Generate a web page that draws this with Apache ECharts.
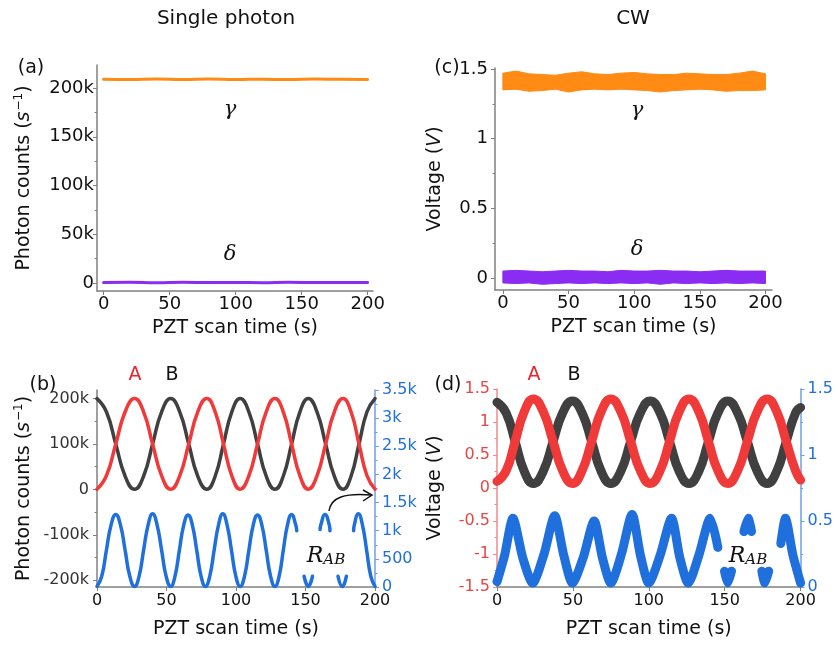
<!DOCTYPE html>
<html>
<head>
<meta charset="utf-8">
<script src="https://cdn.jsdelivr.net/npm/echarts@6/dist/echarts.min.js"></script>
<style>
html,body{margin:0;padding:0;background:#fff;}
#main{width:836px;height:645px;}
</style>
</head>
<body>
<div id="main"></div>
<script>
// ---------- data ----------
// (a) single photon, gamma / delta (counts per s)
var aTime  = [0, 20, 40, 60, 80, 100, 120, 140, 160, 180, 200];
var aGamma = [209000, 208600, 209200, 208800, 209300, 208700, 209100, 208600, 209200, 208900, 208700];
var aDelta = [400, 700, 300, 800, 400, 600, 300, 700, 400, 600, 500];

// (c) CW, band edges (V)
var cTime    = [0, 10, 20, 30, 40, 50, 60, 70, 80, 90, 100, 110, 120, 130, 140, 150, 160, 170, 180, 190, 200];
var cGammaHi = [1.47, 1.485, 1.465, 1.46, 1.455, 1.47, 1.48, 1.465, 1.46, 1.47, 1.475, 1.465, 1.46, 1.46, 1.47, 1.465, 1.46, 1.46, 1.47, 1.485, 1.465];
var cGammaLo = [1.35, 1.355, 1.34, 1.345, 1.355, 1.335, 1.35, 1.355, 1.35, 1.355, 1.35, 1.345, 1.335, 1.345, 1.35, 1.355, 1.35, 1.34, 1.345, 1.345, 1.35];
var cDeltaHi = [0.05, 0.055, 0.05, 0.045, 0.05, 0.055, 0.05, 0.05, 0.045, 0.055, 0.05, 0.05, 0.055, 0.05, 0.05, 0.045, 0.05, 0.055, 0.05, 0.05, 0.05];
var cDeltaLo = [-0.035, -0.04, -0.035, -0.045, -0.04, -0.035, -0.04, -0.035, -0.04, -0.035, -0.04, -0.035, -0.045, -0.035, -0.04, -0.035, -0.04, -0.035, -0.04, -0.035, -0.04];

// (b) single photon A / B (counts per s)
var bTime = [0, 6.75, 13.5, 20.25, 27, 33.5, 40, 46.5, 53, 59.5, 66, 72.5, 79, 85, 91, 97, 103,
             109.25, 115.5, 121.75, 128, 134, 140, 146, 152, 158.25, 164.5, 170.75, 177, 182.75, 188.5, 194.25, 200];
var bA = [500, 30000, 100000, 171000, 200000, 171000, 100000, 30000, 500, 30000, 100000, 171000, 200000, 171000, 100000, 30000, 500,
          30000, 100000, 171000, 200000, 171000, 100000, 30000, 500, 30000, 100000, 171000, 200000, 171000, 100000, 30000, 500];
var bB = [200000, 171000, 100000, 29000, 500, 29000, 100000, 171000, 200000, 171000, 100000, 29000, 500, 29000, 100000, 171000, 200000,
          171000, 100000, 29000, 500, 29000, 100000, 171000, 200000, 171000, 100000, 29000, 500, 29000, 100000, 171000, 200000];
// (b) R_AB coincidences (right axis), null = hidden behind label
var rTime = [0, 3.4, 6.75, 10.1, 13.5, 16.9, 20.25, 23.6, 27, 30.25, 33.5, 36.75, 40, 43.25, 46.5, 49.75, 53,
             56.1, 59.25, 62.4, 65.5, 68.6, 71.75, 74.9, 78, 81.1, 84.25, 87.4, 90.5, 93.6, 96.75, 99.9, 103,
             106.1, 109.25, 112.4, 115.5, 118.6, 121.75, 124.9, 128, 131, 134, 137, 140, 143, 143.7, 144,
             149, 152, 155, 156, 160.5, 161, 164, 167.1, 167.6, 168, 173.4, 176.5, 179.4, 180,
             184.6, 185.1, 188, 191, 194, 197, 200];
var rVal  = [10, 190, 650, 1100, 1290, 1100, 650, 190, 10, 190, 650, 1100, 1300, 1100, 650, 190, 10,
             190, 650, 1100, 1280, 1100, 650, 190, 10, 190, 650, 1100, 1300, 1100, 650, 190, 10,
             190, 650, 1100, 1280, 1100, 650, 190, 10, 190, 650, 1100, 1290, 1100, 1000, null,
             190, 10, 190, null, 1020, 1100, 1290, 1100, 1000, null, 190, 10, 190, null,
             1000, 1100, 1300, 1100, 650, 190, 10];

// (d) CW A / B (V)
var dTime = [0, 6, 12, 18, 24, 30.4, 36.9, 43.3, 49.7, 56, 62.4, 68.7, 75, 81.5, 88, 94.5, 101,
             107.4, 113.75, 120.1, 126.5, 132.9, 139.25, 145.6, 152, 158.5, 165, 171.5, 178, 184.25, 190.5, 196.75, 200];
var dA = [0.1, 0.26, 0.71, 1.16, 1.35, 1.16, 0.71, 0.26, 0.07, 0.26, 0.71, 1.16, 1.35, 1.16, 0.71, 0.26, 0.07,
          0.26, 0.71, 1.16, 1.35, 1.16, 0.71, 0.26, 0.07, 0.26, 0.71, 1.16, 1.35, 1.16, 0.71, 0.26, 0.12];
var dB = [1.3, 1.14, 0.7, 0.25, 0.07, 0.25, 0.7, 1.14, 1.32, 1.14, 0.7, 0.25, 0.07, 0.25, 0.7, 1.14, 1.32,
          1.14, 0.7, 0.25, 0.07, 0.25, 0.7, 1.14, 1.32, 1.14, 0.7, 0.25, 0.07, 0.25, 0.7, 1.14, 1.22];
// (d) R_AB (right axis, V)
var dRTime = [0, 5, 10.5, 17, 23.5, 31, 38, 44, 49.7, 57, 64, 69.5, 75, 82, 89, 94.5, 100, 107.5, 115, 120.5, 126,
              133, 140.5, 145.5, 146, 149.9, 152, 154.5, 155, 162.7, 165.5, 167.7, 168, 174.5, 176.5, 179, 180,
              187, 190, 195, 200];
var dRVal  = [0.04, 0.24, 0.52, 0.22, 0.03, 0.25, 0.54, 0.24, 0.03, 0.23, 0.5, 0.22, 0.03, 0.25, 0.55, 0.24, 0.03, 0.24, 0.52, 0.22, 0.03,
              0.24, 0.52, 0.3, null, 0.12, 0.03, 0.12, null, 0.42, 0.52, 0.42, null, 0.12, 0.03, 0.12, null,
              0.33, 0.52, 0.24, 0.03];

// tick labels
var timeTicks   = [0, 50, 100, 150, 200];
var aTicks      = [0, 50000, 100000, 150000, 200000];
var aMinor      = [25000, 75000, 125000, 175000];
var cTicks      = [0, 0.5, 1, 1.5];
var cMinor      = [0.25, 0.75, 1.25];
var bTicks      = [-200000, -100000, 0, 100000, 200000];
var bMinor      = [-150000, -50000, 50000, 150000];

// ---------- helpers ----------
var FONT = 'DejaVu Sans';
var ORANGE = '#ff8a14', PURPLE = '#8a2cf2', RED = '#f03a3a', GRAY = '#404040', BLUE = '#1f6fdc';

function zip(xs, ys) {
    return xs.map(function (x, i) { return [x, ys[i]]; });
}
function kFmt(v) {
    if (v === 0) return '0';
    if (Math.abs(v) < 1000) return String(v);
    return (v / 1000) + 'k';
}
function xAxisCfg(grid, min, max, fs, margin, gap) {
    return {
        gridIndex: grid, type: 'value', min: min, max: max,
        axisLine: {onZero: false, lineStyle: {color: '#808080', width: 1.5}},
        axisTick: {customValues: timeTicks, length: 4, lineStyle: {color: '#808080'}},
        axisLabel: {customValues: timeTicks, fontSize: fs, color: '#111', margin: margin, fontFamily: FONT},
        splitLine: {show: false},
        name: 'PZT scan time (s)', nameLocation: 'middle', nameGap: gap,
        nameTextStyle: {fontFamily: FONT, fontSize: 19, color: '#111'}
    };
}
function minorAxis(grid, min, max, vals, color) {
    return {
        gridIndex: grid, type: 'value', min: min, max: max, position: 'left',
        axisLine: {show: false, onZero: false}, axisLabel: {show: false}, splitLine: {show: false},
        axisTick: {show: true, customValues: vals, length: 2.5, lineStyle: {color: color}}
    };
}
var countsRich = {
    i: {fontStyle: 'italic', fontFamily: FONT, fontSize: 19, color: '#111'},
    sup: {fontFamily: FONT, fontSize: 12, color: '#111', verticalAlign: 'top', padding: [0, 0, 10, 1]}
};
var voltRich = {i: {fontStyle: 'italic', fontFamily: FONT, fontSize: 19, color: '#111'}};

function line(xi, yi, data, color, width, smooth, z) {
    return {
        type: 'line', xAxisIndex: xi, yAxisIndex: yi, data: data, showSymbol: false, symbol: 'none',
        smooth: smooth, connectNulls: false, z: z || 2, animation: false,
        lineStyle: {color: color, width: width, join: 'round', cap: 'round'}, itemStyle: {color: color}
    };
}
// noisy CW trace drawn as a filled band between its upper and lower edge
function band(xi, yi, t, hi, lo, color) {
    return {
        type: 'custom', xAxisIndex: xi, yAxisIndex: yi, animation: false, silent: true, clip: true,
        data: t.map(function (x, i) { return [x, hi[i], lo[i]]; }),
        encode: {x: 0, y: [1, 2]},
        renderItem: function (params, api) {
            if (params.dataIndex !== 0) return null;
            var top = [], bot = [];
            for (var i = 0; i < t.length; i++) {
                top.push(api.coord([t[i], hi[i]]));
                bot.unshift(api.coord([t[i], lo[i]]));
            }
            return {type: 'polygon', shape: {points: top.concat(bot)}, style: {fill: color, stroke: color, lineWidth: 1}};
        }
    };
}

var chart = echarts.init(document.getElementById('main'));

var option = {
    backgroundColor: '#fff',
    animation: false,
    grid: [
        {left: 97, top: 65, width: 276, height: 226},
        {left: 495, top: 68, width: 277, height: 222},
        {left: 97, top: 390, width: 278, height: 197},
        {left: 497, top: 389, width: 306, height: 198}
    ],
    xAxis: [
        xAxisCfg(0, -5, 204, 18, 4, 28),
        xAxisCfg(1, -6, 205, 18, 4, 28),
        xAxisCfg(2, 0, 200, 16, 6, 33),
        xAxisCfg(3, 0, 200, 16, 6, 33)
    ],
    yAxis: [
        // 0: (a)
        {
            gridIndex: 0, type: 'value', min: -8200, max: 223600,
            axisLine: {onZero: false, lineStyle: {color: '#808080', width: 1.5}},
            axisTick: {customValues: aTicks, length: 4, lineStyle: {color: '#808080'}},
            axisLabel: {customValues: aTicks, formatter: kFmt, fontSize: 18, color: '#111', margin: 3, fontFamily: FONT},
            splitLine: {show: false},
            name: 'Photon counts ({i|s}{sup|−1})', nameLocation: 'middle', nameGap: 62,
            nameTextStyle: {fontFamily: FONT, fontSize: 19, color: '#111', rich: countsRich}
        },
        // 1: (a) minor
        minorAxis(0, -8200, 223600, aMinor, '#808080'),
        // 2: (c)
        {
            gridIndex: 1, type: 'value', min: -0.086, max: 1.507,
            axisLine: {onZero: false, lineStyle: {color: '#808080', width: 1.5}},
            axisTick: {customValues: cTicks, length: 4, lineStyle: {color: '#808080'}},
            axisLabel: {customValues: cTicks, fontSize: 18, color: '#111', margin: 7, fontFamily: FONT},
            splitLine: {show: false},
            name: 'Voltage ({i|V})', nameLocation: 'middle', nameGap: 50,
            nameTextStyle: {fontFamily: FONT, fontSize: 19, color: '#111', rich: voltRich}
        },
        // 3: (c) minor
        minorAxis(1, -0.086, 1.507, cMinor, '#808080'),
        // 4: (b) left
        {
            gridIndex: 2, type: 'value', min: -215000, max: 219000,
            axisLine: {onZero: false, lineStyle: {color: '#808080', width: 1.5}},
            axisTick: {customValues: bTicks, length: 4, lineStyle: {color: '#808080'}},
            axisLabel: {customValues: bTicks, formatter: kFmt, fontSize: 16, color: '#333', margin: 8, fontFamily: FONT},
            splitLine: {show: false},
            name: 'Photon counts ({i|s}{sup|−1})', nameLocation: 'middle', nameGap: 62,
            nameTextStyle: {fontFamily: FONT, fontSize: 19, color: '#111', rich: countsRich}
        },
        // 5: (b) left minor
        minorAxis(2, -215000, 219000, bMinor, '#808080'),
        // 6: (b) right
        {
            gridIndex: 2, type: 'value', position: 'right', min: 0, max: 3500, interval: 500,
            axisLine: {onZero: false, show: true, lineStyle: {color: '#6f9fe6', width: 1.5}},
            axisTick: {show: true, length: 4, lineStyle: {color: '#6f9fe6'}},
            minorTick: {show: true, splitNumber: 2, length: 2.5, lineStyle: {color: '#6f9fe6'}},
            axisLabel: {formatter: kFmt, fontSize: 16, color: BLUE, margin: 7, fontFamily: FONT},
            splitLine: {show: false}
        },
        // 7: (d) left
        {
            gridIndex: 3, type: 'value', min: -1.5, max: 1.5, interval: 0.5,
            axisLine: {onZero: false, lineStyle: {color: '#f28a8a', width: 1.5}},
            axisTick: {length: 4, lineStyle: {color: '#f28a8a'}},
            minorTick: {show: true, splitNumber: 2, length: 2.5, lineStyle: {color: '#f28a8a'}},
            axisLabel: {fontSize: 16, color: '#e84646', margin: 7, fontFamily: FONT},
            splitLine: {show: false},
            name: 'Voltage ({i|V})', nameLocation: 'middle', nameGap: 52,
            nameTextStyle: {fontFamily: FONT, fontSize: 19, color: '#111', rich: voltRich}
        },
        // 8: (d) right
        {
            gridIndex: 3, type: 'value', position: 'right', min: 0, max: 1.5, interval: 0.5,
            axisLine: {onZero: false, show: true, lineStyle: {color: '#6f9fe6', width: 1.5}},
            axisTick: {show: true, length: 4, lineStyle: {color: '#6f9fe6'}},
            minorTick: {show: true, splitNumber: 2, length: 2.5, lineStyle: {color: '#6f9fe6'}},
            axisLabel: {fontSize: 16, color: BLUE, margin: 7, fontFamily: FONT},
            splitLine: {show: false}
        }
    ],
    series: [
        // (a)
        line(0, 0, zip(aTime, aGamma), ORANGE, 3, true),
        line(0, 0, zip(aTime, aDelta), PURPLE, 3, true),
        // (c) bands
        band(1, 2, cTime, cGammaHi, cGammaLo, ORANGE),
        band(1, 2, cTime, cDeltaHi, cDeltaLo, PURPLE),
        // (b)
        line(2, 4, zip(bTime, bB), GRAY, 3.5, true, 2),
        line(2, 4, zip(bTime, bA), RED, 3.5, true, 3),
        line(2, 6, zip(rTime, rVal), BLUE, 3.5, true, 3),
        // (d)
        line(3, 7, zip(dTime, dB), GRAY, 9, true, 2),
        line(3, 7, zip(dTime, dA), RED, 9, true, 3),
        line(3, 8, zip(dRTime, dRVal), BLUE, 9, 0.25, 3)
    ],
    graphic: [
        {type: 'text', style: {text: 'Single photon', x: 226, y: 19, align: 'center', verticalAlign: 'middle', font: '20px "DejaVu Sans"', fill: '#111'}},
        {type: 'text', style: {text: 'CW', x: 633, y: 19, align: 'center', verticalAlign: 'middle', font: '20px "DejaVu Sans"', fill: '#111'}},
        {type: 'text', style: {text: '(a)', x: 31, y: 68, align: 'center', verticalAlign: 'middle', font: '19px "DejaVu Sans"', fill: '#111'}},
        {type: 'text', style: {text: '(c)', x: 447, y: 68, align: 'center', verticalAlign: 'middle', font: '19px "DejaVu Sans"', fill: '#111'}},
        {type: 'text', style: {text: '(b)', x: 43, y: 385, align: 'center', verticalAlign: 'middle', font: '19px "DejaVu Sans"', fill: '#111'}},
        {type: 'text', style: {text: '(d)', x: 448, y: 385, align: 'center', verticalAlign: 'middle', font: '19px "DejaVu Sans"', fill: '#111'}},
        {type: 'text', style: {text: 'A', x: 135, y: 375, align: 'center', verticalAlign: 'middle', font: '19px "DejaVu Sans"', fill: '#e8262b'}},
        {type: 'text', style: {text: 'B', x: 172, y: 375, align: 'center', verticalAlign: 'middle', font: '19px "DejaVu Sans"', fill: '#111'}},
        {type: 'text', style: {text: 'A', x: 534, y: 375, align: 'center', verticalAlign: 'middle', font: '19px "DejaVu Sans"', fill: '#e8262b'}},
        {type: 'text', style: {text: 'B', x: 574, y: 375, align: 'center', verticalAlign: 'middle', font: '19px "DejaVu Sans"', fill: '#111'}},
        {type: 'text', style: {text: 'γ', x: 230, y: 110, align: 'center', verticalAlign: 'middle', font: 'italic 21px "DejaVu Serif"', fill: '#111'}},
        {type: 'text', style: {text: 'δ', x: 230, y: 255, align: 'center', verticalAlign: 'middle', font: 'italic 21px "DejaVu Serif"', fill: '#111'}},
        {type: 'text', style: {text: 'γ', x: 637, y: 111, align: 'center', verticalAlign: 'middle', font: 'italic 21px "DejaVu Serif"', fill: '#111'}},
        {type: 'text', style: {text: 'δ', x: 637, y: 250, align: 'center', verticalAlign: 'middle', font: 'italic 21px "DejaVu Serif"', fill: '#111'}},
        {type: 'text', style: {text: '{r|R}{s|AB}', x: 326, y: 556, align: 'center', verticalAlign: 'middle',
            rich: {r: {font: 'italic 22px "DejaVu Serif"', fill: '#111'}, s: {font: 'italic 15px "DejaVu Serif"', fill: '#111', padding: [8, 0, 0, 0]}}}},
        {type: 'text', style: {text: '{r|R}{s|AB}', x: 748, y: 556, align: 'center', verticalAlign: 'middle',
            rich: {r: {font: 'italic 22px "DejaVu Serif"', fill: '#111'}, s: {font: 'italic 15px "DejaVu Serif"', fill: '#111', padding: [8, 0, 0, 0]}}}},
        {type: 'bezierCurve', shape: {x1: 329, y1: 511, cpx1: 331, cpy1: 497, cpx2: 345, cpy2: 493, x2: 371, y2: 495},
            style: {stroke: '#111', lineWidth: 1.5, fill: null}},
        {type: 'polyline', shape: {points: [[363, 490], [372, 495], [363, 501]]},
            style: {stroke: '#111', lineWidth: 1.5, fill: null}}
    ]
};

chart.setOption(option);
</script>
</body>
</html>
